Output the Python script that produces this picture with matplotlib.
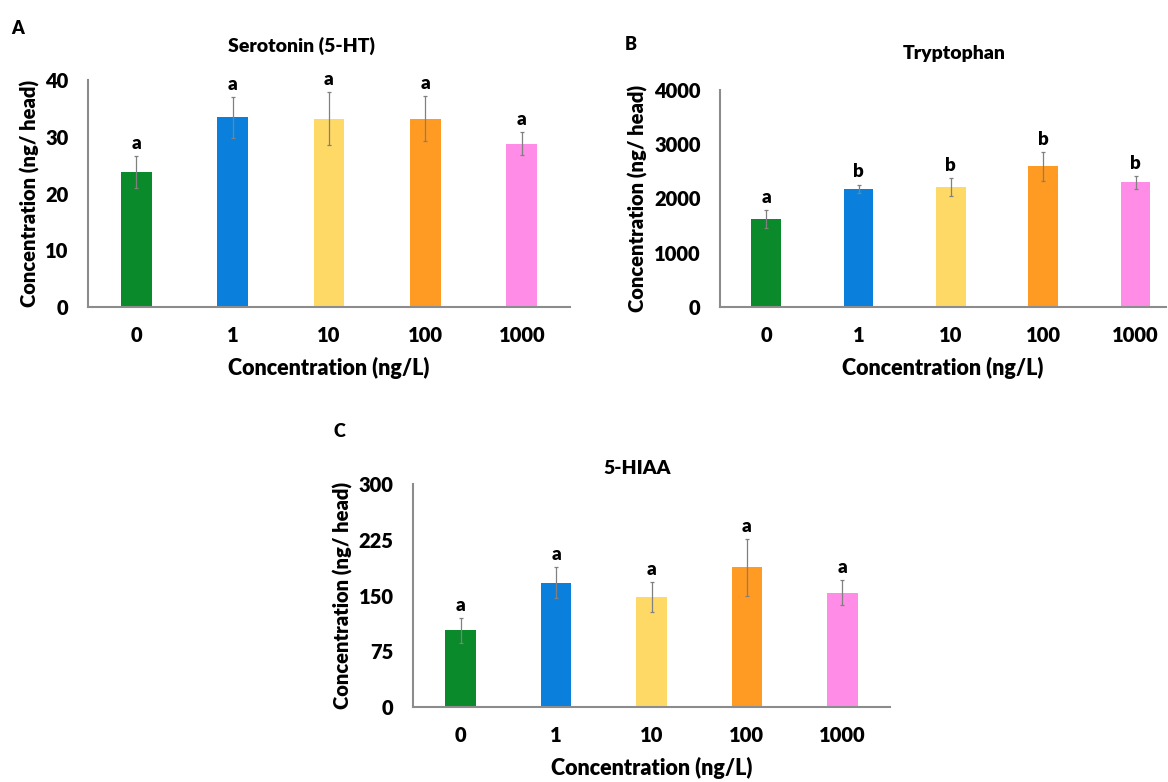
import matplotlib
matplotlib.use("Agg")
import matplotlib.pyplot as plt

plt.rcParams["font.family"] = ["Lato", "DejaVu Sans"]
plt.rcParams["font.weight"] = "heavy"

doses = ["0", "1", "10", "100", "1000"]
bar_colors = ["#0a8a2a", "#0a80dc", "#ffd966", "#ff9a22", "#ff8ce6"]

serotonin = [23.8, 33.4, 33.2, 33.2, 28.8]
serotonin_err = [2.8, 3.6, 4.6, 4.0, 2.0]
serotonin_sig = ["a", "a", "a", "a", "a"]

tryptophan = [1620, 2180, 2215, 2590, 2295]
tryptophan_err = [170, 75, 160, 265, 115]
tryptophan_sig = ["a", "b", "b", "b", "b"]

hiaa = [103, 167, 148, 188, 154]
hiaa_err = [17, 21, 20, 38, 17]
hiaa_sig = ["a", "a", "a", "a", "a"]

W, H = 1168, 782
WEIGHT = "heavy"


def px_axes(fig, left, right, top, bottom):
    return fig.add_axes([left / W, 1 - bottom / H, (right - left) / W, (bottom - top) / H])


def panel(ax, vals, errs, sig, ymax, yticks, title, title_xy, letter, letter_xy, xmax=4.5):
    x = range(len(doses))
    ax.bar(x, vals, width=0.32, color=bar_colors, zorder=2)
    ax.errorbar(x, vals, yerr=errs, fmt="none", ecolor="#808080",
                elinewidth=0.9, capsize=1.5, capthick=0.9, zorder=3)
    for xi, v, e, s in zip(x, vals, errs, sig):
        ax.annotate(s, (xi, v + e), xytext=(0, 3), textcoords="offset points",
                    ha="center", va="bottom", fontsize=13.5, fontweight=WEIGHT)
    ax.set_xlim(-0.5, xmax)
    ax.set_ylim(0, ymax)
    ax.set_yticks(yticks)
    ax.set_xticks(list(x))
    ax.set_xticklabels(doses)
    ax.tick_params(length=0, labelsize=14.5, pad=14)
    ax.tick_params(axis="y", pad=14)
    for lab in ax.get_xticklabels() + ax.get_yticklabels():
        lab.set_fontweight(WEIGHT)
    for s in ["top", "right"]:
        ax.spines[s].set_visible(False)
    for s in ["left", "bottom"]:
        ax.spines[s].set_color("#8c8c8c")
        ax.spines[s].set_linewidth(1.5)
    ax.set_xlabel("Concentration (ng/L)", fontsize=15.5, fontweight=WEIGHT, labelpad=8)
    ax.set_ylabel("Concentration (ng/ head)", fontsize=14.5, fontweight=WEIGHT, labelpad=4)
    fig = ax.figure
    fig.text(title_xy[0] / W, 1 - title_xy[1] / H, title, ha="center", va="center",
             fontsize=14, fontweight=WEIGHT)
    fig.text(letter_xy[0] / W, 1 - letter_xy[1] / H, letter, ha="left", va="center",
             fontsize=13, fontweight=WEIGHT)


fig = plt.figure(figsize=(W / 100, H / 100), dpi=100)
fig.patch.set_facecolor("white")

ax_a = px_axes(fig, 88, 570, 80, 307)
panel(ax_a, serotonin, serotonin_err, serotonin_sig, 40, [0, 10, 20, 30, 40],
      "Serotonin (5-HT)", (302, 46), "A", (11, 29))

ax_b = px_axes(fig, 720, 1166, 90, 307)
panel(ax_b, tryptophan, tryptophan_err, tryptophan_sig, 4000, [0, 1000, 2000, 3000, 4000],
      "Tryptophan", (954, 54), "B", (625, 45), xmax=4.33)

ax_c = px_axes(fig, 413, 890, 484, 707)
panel(ax_c, hiaa, hiaa_err, hiaa_sig, 300, [0, 75, 150, 225, 300],
      "5-HIAA", (637, 468), "C", (333, 432))

fig.savefig("out.png", dpi=100)
